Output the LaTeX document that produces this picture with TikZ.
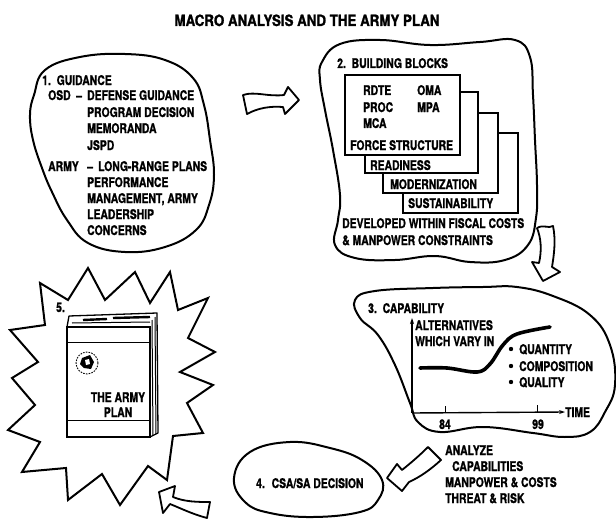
\documentclass[tikz,border=0pt]{standalone}
\usepackage{fontspec}
\newfontfamily\bodyfont{TeX Gyre Heros}[FakeStretch=0.78, BoldFeatures={FakeBold=1.2}]
\newfontfamily\headfont{TeX Gyre Heros}[FakeStretch=0.86, BoldFeatures={FakeBold=1.4}]
\usetikzlibrary{arrows.meta}

\begin{document}
\begin{tikzpicture}[x=1pt,y=-1pt,
  lbl/.style={anchor=base west, inner sep=0pt, font=\bodyfont\bfseries\fontsize{13.3}{15}\selectfont},
  clbl/.style={lbl, anchor=base},
  blob/.style={draw, line width=2pt, line join=round},
  blockarrow/.style={draw, fill=white, line width=1.8pt, line join=round},
  layer/.style={draw, fill=white, line width=1.4pt},
  thin/.style={line width=1pt},
  axis/.style={line width=1.4pt, -{Stealth[length=6pt,width=4pt]}},
]
\useasboundingbox (0,0) rectangle (616,519);

% ---- heading
\node[anchor=base, inner sep=0pt, font=\headfont\bfseries\fontsize{15.5}{17}\selectfont]
  (title) at (307,26) {MACRO ANALYSIS AND THE ARMY PLAN};

% ---- 1. guidance
\draw[blob] plot[smooth cycle, tension=0.7] coordinates {
  (34,95) (45,70) (80,57) (125,54) (165,60) (193,78) (204,105) (210,140)
  (214,175) (209,205) (196,230) (165,247) (125,252) (88,243) (67,220)
  (52,192) (42,168) (33,140) (30,115)};
\node[lbl] (g0) at (42,85) {1.\hspace{2pt} GUIDANCE};
\node[lbl] (g1) at (48,100) {OSD};
\node[lbl] (g1d) at (76,100) {–};
\node[lbl] (g1t) at (87,100) {DEFENSE GUIDANCE};
\node[lbl] (g2) at (87,117) {PROGRAM DECISION};
\node[lbl] (g3) at (87,133) {MEMORANDA};
\node[lbl] (g4) at (87,150) {JSPD};
\node[lbl] (g5) at (48,171) {ARMY};
\node[lbl] (g5d) at (87,171) {–};
\node[lbl] (g5t) at (98,171) {LONG-RANGE PLANS};
\node[lbl] (g6) at (87,187) {PERFORMANCE};
\node[lbl] (g7) at (87,203) {MANAGEMENT, ARMY};
\node[lbl] (g8) at (87,219) {LEADERSHIP};
\node[lbl] (g9) at (87,235) {CONCERNS};

% ---- 2. building blocks
\draw[blob] plot[smooth cycle, tension=0.7] coordinates {
  (322,62) (340,44) (380,40) (430,45) (480,42) (515,40) (530,57) (533,95)
  (535,140) (537,185) (536,218) (528,245) (505,260) (470,262) (435,256)
  (395,260) (355,258) (335,245) (338,220) (340,195) (333,150) (325,110) (320,80)};
\node[lbl] (b0) at (337,68) {2.\hspace{2pt} BUILDING BLOCKS};
\draw[layer] (403,133) rectangle (518,213);
\draw[layer] (383,113) rectangle (498,193);
\draw[layer] (365,92) rectangle (478,173);
\draw[layer] (345,75) rectangle (460,155);
\node[lbl] (rdte) at (363,95) {RDTE};
\node[lbl] (oma) at (417,95) {OMA};
\node[lbl] (proc) at (363,112) {PROC};
\node[lbl] (mpa) at (417,112) {MPA};
\node[lbl] (mca) at (363,128) {MCA};
\node[lbl] (force) at (350,150) {FORCE STRUCTURE};
\node[lbl] (ready) at (370,170) {READINESS};
\node[lbl] (modern) at (390,189) {MODERNIZATION};
\node[lbl] (sustain) at (408,208) {SUSTAINABILITY};
\node[lbl] (dev1) at (342,228) {DEVELOPED WITHIN FISCAL COSTS};
\node[lbl] (dev2) at (342,245) {\& MANPOWER CONSTRAINTS};

% ---- 3. capability
\draw[blob] plot[smooth cycle, tension=0.7] coordinates {
  (355,300) (375,291) (433,288) (483,287) (517,287) (553,296) (590,315)
  (610,345) (615,385) (605,412) (590,432) (565,437) (533,433) (483,427)
  (440,432) (418,422) (410,403) (395,365) (378,335) (360,318)};
\node[lbl] (c0) at (368,313) {3.\hspace{2pt} CAPABILITY};
\coordinate (origin) at (412,413);
\coordinate (ytop) at (412,318);
\coordinate (xend) at (565,412);
\draw[axis] (origin) -- (ytop);
\draw[axis] (origin) -- (xend);
\draw[thin] (445,413) -- (445,406);
\draw[thin] (537,412) -- (537,405);
\node[clbl] (t84) at (445,429) {84};
\node[clbl] (t99) at (538,429) {99};
\node[lbl] (time) at (565,417) {TIME};
\node[lbl] (alt1) at (415,330) {ALTERNATIVES};
\node[lbl] (alt2) at (415,346) {WHICH VARY IN};
\draw[line width=3.6pt, line cap=round] plot[smooth, tension=0.6] coordinates {
  (420,368) (447,368) (477,372) (490,364) (503,345) (517,334) (550,327)};
\fill (511,349) circle (2.2pt);
\fill (511,366) circle (2.2pt);
\fill (511,382) circle (2.2pt);
\node[lbl] (q1) at (519,354) {QUANTITY};
\node[lbl] (q2) at (519,371) {COMPOSITION};
\node[lbl] (q3) at (519,387) {QUALITY};
\node[lbl] (an1) at (445,455) {ANALYZE};
\node[lbl] (an2) at (452,471) {CAPABILITIES};
\node[lbl] (an3) at (445,487) {MANPOWER \& COSTS};
\node[lbl] (an4) at (445,503) {THREAT \& RISK};

% ---- 4. decision
\draw[blob] plot[smooth cycle, tension=0.7] coordinates {
  (290,442) (330,448) (362,460) (382,480) (378,500) (360,512) (313,517)
  (270,513) (245,502) (234,478) (250,452)};
\node[lbl] (d0) at (256,488) {4.\hspace{3pt} CSA/SA DECISION};

% ---- 5. the plan: starburst
\draw[line width=2pt, line join=miter] (40,283) -- (68,300) -- (88,268) -- (105,300)
  -- (135,272) -- (150,303) -- (170,272) -- (178,310) -- (208,298) -- (188,338)
  -- (215,352) -- (180,372) -- (213,385) -- (187,403) -- (203,433) -- (173,436)
  -- (167,480) -- (148,466) -- (120,505) -- (102,474) -- (68,500) -- (66,468)
  -- (22,472) -- (40,442) -- (8,430) -- (35,405) -- (12,378) -- (38,362)
  -- (10,330) -- (45,325) -- cycle;
\node[lbl] (n5) at (56,312) {5.};
% book: binding and page block behind the cover
\fill[white] (67,327) -- (69,316) -- (157,313) -- (158,433) -- (150,437) -- cycle;
\draw[line width=1.3pt, line join=round] (67,327) -- (69,316) -- (157,313) -- (158,433) -- (150,437);
\draw[thin] (152,320) -- (153,435);
\draw[thin] (155,317) -- (156,434);
\draw[line width=2.4pt] (83,320) -- (107,319);
\draw[line width=2.4pt] (113,318) -- (150,317);
\draw[thin] (72,323) -- (150,322);
% cover
\draw[line width=1.3pt] (67,327) rectangle (150,437);
\draw[thin] (67,342) -- (150,342);
\draw[thin] (67,420) -- (150,420);
\draw[line width=0.9pt, dash pattern=on 1.6pt off 1.2pt] (87,363) circle (11pt);
\fill (82,358) -- (90,355) -- (94,362) -- (91,369) -- (84,368) -- (80,364) -- cycle;
\fill[white] (85,360) -- (89,359) -- (90,364) -- (86,365) -- cycle;
\node[clbl] (book1) at (118,402) {THE ARMY};
\node[clbl] (book2) at (118,417) {PLAN};

% ---- flow arrows
\draw[blockarrow] (243,95) .. controls (255,91) and (268,97) .. (284,95) -- (288,87)
  -- (299,100) -- (285,114) -- (283,107) .. controls (270,106) and (258,108) .. (247,114) -- cycle;
\draw[blockarrow] (537,228) .. controls (544,224) and (548,229) .. (553,226)
  .. controls (556,240) and (554,255) .. (552,267) -- (560,272) -- (543,281)
  -- (532,262) -- (539,263) .. controls (542,250) and (541,238) .. cycle;
\draw[blockarrow] (387,478) -- (397,464) -- (402,470) .. controls (412,462) and (420,455) .. (428,447)
  -- (441,460) .. controls (430,470) and (420,477) .. (409,482) -- (402,491) -- cycle;
\draw[blockarrow] (159,492) -- (175,486) -- (173,497) .. controls (185,502) and (198,502) .. (210,502)
  -- (207,518) .. controls (192,514) and (180,508) .. (170,504) -- (163,513) -- cycle;
\end{tikzpicture}
\end{document}
